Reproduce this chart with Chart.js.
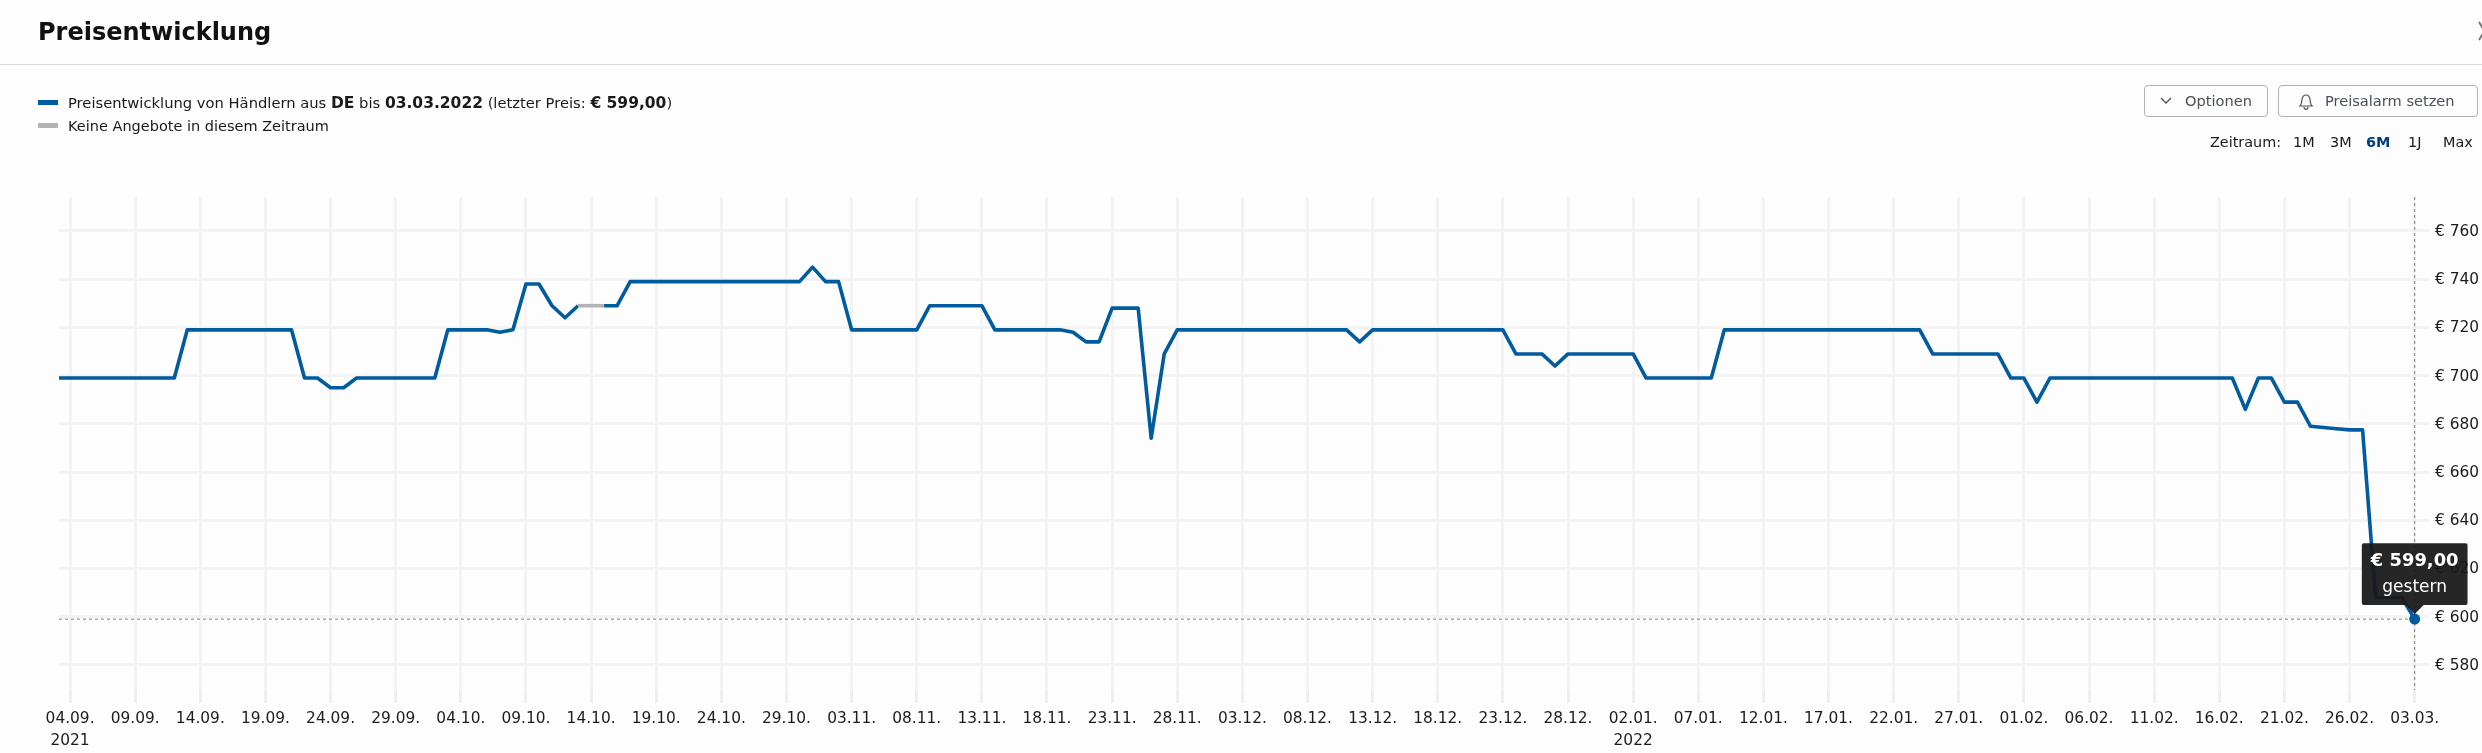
<!DOCTYPE html>
<html lang="de">
<head>
<meta charset="utf-8">
<title>Preisentwicklung</title>
<script src="https://cdn.jsdelivr.net/npm/chart.js@4"></script>
<style>
  html, body { margin: 0; padding: 0; background: #fdfdfd; }
  body { position: relative; width: 2482px; height: 753px; overflow: hidden; font-family: "DejaVu Sans", sans-serif; color: #1a1a1a; }
  canvas { position: absolute; left: 0; top: 0; }
  .abs { position: absolute; white-space: nowrap; }
  h1 { position: absolute; left: 38px; top: 16px; margin: 0; font-size: 24px; line-height: 32px; font-weight: 700; color: #111; }
  .rule { position: absolute; left: 0; top: 64px; width: 2482px; height: 1px; background: #dcdcdc; }
  .swatch { position: absolute; left: 38px; width: 20px; height: 5px; }
  .legend { position: absolute; left: 68px; font-size: 14.500px; line-height: 20px; white-space: nowrap; }
  .legend b { font-size: 15.500px; }
  .btn { position: absolute; top: 85px; height: 30px; border: 1px solid #b0b0b0; border-radius: 4px; box-sizing: content-box; color: #4b4f58; font-size: 14.600px; line-height: 30px; }
  .btn span { position: absolute; white-space: nowrap; }
  .btn svg { position: absolute; }
  .range { position: absolute; top: 132px; font-size: 14.400px; line-height: 21px; white-space: nowrap; color: #1a1a1a; }
  .range.on { color: #003e7e; font-weight: 700; }
</style>
</head>
<body>
<canvas id="chart" width="2482" height="753"></canvas>

<h1>Preisentwicklung</h1>
<div class="rule"></div>
<svg class="abs" style="left:2470px;top:20px" width="12" height="24"><path d="M9 2 L20 20 M20 2 L9 20" stroke="#777" stroke-width="2" fill="none"/></svg>

<div class="swatch" style="top:100px;background:#005b9f"></div>
<div class="legend" style="top:93px;font-size:14.720px">Preisentwicklung von Händlern aus <b>DE</b> bis <b>03.03.2022</b> (letzter Preis: <b>€ 599,00</b>)</div>
<div class="swatch" style="top:123px;background:#b4b4b4"></div>
<div class="legend" style="top:116px">Keine Angebote in diesem Zeitraum</div>

<div class="btn" style="left:2144px;width:122px">
  <svg style="left:14px;top:10px" width="14" height="10"><path d="M2 2 L7 7 L12 2" stroke="#4b4f58" stroke-width="1.3" fill="none"/></svg>
  <span style="left:40px">Optionen</span>
</div>
<div class="btn" style="left:2278px;width:198px">
  <svg style="left:18px;top:7px" width="18" height="18"><path d="M3 13 C5 11 4.500 9 5 6.500 C5.500 3.500 7 2 9 2 C11 2 12.500 3.500 13 6.500 C13.500 9 13 11 15 13 Z M7 14 C7 17 11 17 11 14" stroke="#4b4f58" stroke-width="1.2" fill="none"/></svg>
  <span style="left:46px">Preisalarm setzen</span>
</div>

<div class="range" style="left:2210px">Zeitraum:</div>
<div class="range" style="left:2293px">1M</div>
<div class="range" style="left:2330px">3M</div>
<div class="range on" style="left:2366px">6M</div>
<div class="range" style="left:2408px">1J</div>
<div class="range" style="left:2443px">Max</div>

<script>
// --- DATA (one value per day, first value is 03.09.2021) ---
const firstDay = -1;
const prices = [
  699, 699, 699, 699, 699, 699, 699, 699, 699, 699,
  719, 719, 719, 719, 719, 719, 719, 719, 719,
  699, 699, 695, 695, 699, 699, 699, 699, 699, 699, 699,
  719, 719, 719, 719, 718, 719, 738, 738, 729, 724,
  729, 729, 729, 729,
  739, 739, 739, 739, 739, 739, 739, 739, 739, 739, 739, 739, 739, 739,
  745, 739, 739,
  719, 719, 719, 719, 719, 719,
  729, 729, 729, 729, 729,
  719, 719, 719, 719, 719, 719,
  718, 714, 714, 728, 728, 728, 674, 709,
  719, 719, 719, 719, 719, 719, 719, 719, 719, 719, 719, 719, 719, 719,
  714,
  719, 719, 719, 719, 719, 719, 719, 719, 719, 719, 719,
  709, 709, 709, 704,
  709, 709, 709, 709, 709, 709,
  699, 699, 699, 699, 699, 699,
  719, 719, 719, 719, 719, 719, 719, 719, 719, 719, 719, 719, 719, 719, 719, 719,
  709, 709, 709, 709, 709, 709,
  699, 699, 689,
  699, 699, 699, 699, 699, 699, 699, 699, 699, 699, 699, 699, 699, 699, 699,
  686, 699, 699, 689, 689, 679, 678.5, 678, 677.5, 677.5,
  608, 608, 608, 599
];
const tickLabels = [
  '04.09.', '09.09.', '14.09.', '19.09.', '24.09.', '29.09.', '04.10.', '09.10.',
  '14.10.', '19.10.', '24.10.', '29.10.', '03.11.', '08.11.', '13.11.', '18.11.',
  '23.11.', '28.11.', '03.12.', '08.12.', '13.12.', '18.12.', '23.12.', '28.12.',
  '02.01.', '07.01.', '12.01.', '17.01.', '22.01.', '27.01.', '01.02.', '06.02.',
  '11.02.', '16.02.', '21.02.', '26.02.', '03.03.'
];
const yearLabels = { '04.09.': '2021', '02.01.': '2022' };
const priceTicks = [580, 600, 620, 640, 660, 680, 700, 720, 740, 760];
const noOffers = [39, 41];    // grey stretch, in days after 04.09.
const lastPrice = '€ 599,00';
const lastNote = 'gestern';

// --- AXIS RANGE ---
const xMin = -0.85, xMax = 181.1;
const yMin = 569.6, yMax = 774.1;
const tickStep = 5;

const BLUE = '#005b9f';
const GREY = '#b4b4b4';
const GRID = '#f3f3f3';
const FONT = '"DejaVu Sans", sans-serif';

const points = prices.map((y, i) => ({ x: firstDay + i, y }));
const lastIdx = points.length - 1;
const last = points[lastIdx];

// --- CHART ---
const chart = new Chart(document.getElementById('chart'), {
  type: 'line',
  data: {
    datasets: [
      {
        data: points,
        order: 1,
        borderColor: BLUE,
        backgroundColor: BLUE,
        borderWidth: 3.6,
        borderJoinStyle: 'round',
        tension: 0,
        pointRadius: c => (c.dataIndex === lastIdx ? 5.5 : 0),
        pointBorderWidth: 0,
        segment: {
          borderColor: c => (c.p0.parsed.x >= noOffers[0] && c.p0.parsed.x < noOffers[1] ? GREY : undefined)
        }
      },
      // dotted crosshair at the last price
      {
        data: [{ x: xMin, y: last.y }, { x: last.x, y: last.y }],
        order: 2, borderColor: '#808080', borderWidth: 1, borderDash: [3, 3], pointRadius: 0
      },
      {
        data: [{ x: last.x, y: yMax }, { x: last.x, y: yMin }],
        order: 2, borderColor: '#808080', borderWidth: 1, borderDash: [3, 3], pointRadius: 0
      }
    ]
  },
  options: {
    responsive: false,
    animation: false,
    events: [],
    layout: { padding: { left: 59, top: 197, right: 0, bottom: 0 } },
    plugins: {
      legend: { display: false },
      title: { display: false },
      tooltip: {
        enabled: true,
        backgroundColor: 'rgba(24,24,24,0.94)',
        cornerRadius: 2,
        displayColors: false,
        xAlign: 'center',
        yAlign: 'bottom',
        caretSize: 9,
        caretPadding: 5,
        padding: { x: 9, y: 7 },
        titleAlign: 'center',
        bodyAlign: 'center',
        titleColor: '#fff',
        bodyColor: '#fff',
        titleFont: { family: FONT, size: 17.9, weight: 'bold' },
        bodyFont: { family: FONT, size: 17 },
        titleMarginBottom: 6,
        callbacks: {
          title: () => lastPrice,
          label: () => lastNote
        }
      }
    },
    scales: {
      x: {
        type: 'linear',
        min: xMin,
        max: xMax,
        border: { display: false },
        grid: { color: GRID, lineWidth: 3, tickLength: 13, tickColor: '#efefef', tickWidth: 3 },
        afterBuildTicks: s => { s.ticks = tickLabels.map((t, i) => ({ value: i * tickStep })); },
        afterFit: s => { s.height = 63; },
        ticks: {
          autoSkip: false,
          maxRotation: 0,
          padding: 5,
          color: '#1c1c1c',
          font: { family: FONT, size: 15.4, lineHeight: 1.43 },
          callback: v => {
            const t = tickLabels[v / tickStep];
            return yearLabels[t] ? [t, yearLabels[t]] : t;
          }
        }
      },
      y: {
        position: 'right',
        min: yMin,
        max: yMax,
        border: { display: false },
        grid: { color: GRID, lineWidth: 3, drawTicks: false },
        afterBuildTicks: s => { s.ticks = priceTicks.map(v => ({ value: v })); },
        afterFit: s => { s.width = 53; },
        ticks: {
          padding: 6,
          labelOffset: 1,
          color: '#1c1c1c',
          font: { family: FONT, size: 15.4 },
          callback: v => '€ ' + v
        }
      }
    }
  }
});

// show the tooltip on the last point, as in the screenshot
chart.tooltip.setActiveElements([{ datasetIndex: 0, index: lastIdx }], { x: 0, y: 0 });
chart.update();
</script>
</body>
</html>
